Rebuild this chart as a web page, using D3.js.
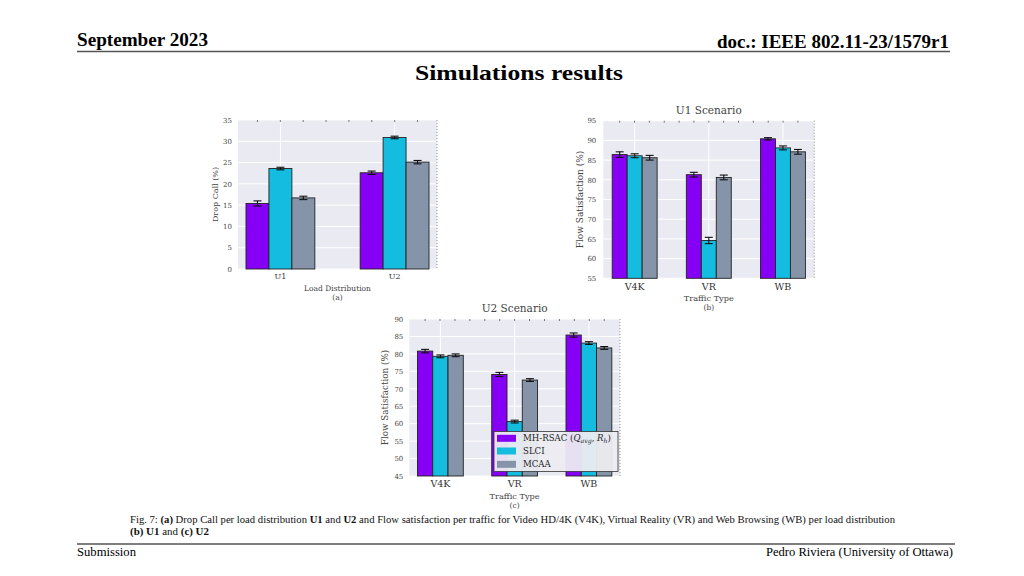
<!DOCTYPE html>
<html><head><meta charset="utf-8">
<script src="https://cdn.jsdelivr.net/npm/d3@7"></script>
<style>body{margin:0;background:#fff}svg{display:block}</style>
</head><body>
<script>
// ---------- data ----------
const methods = ["MH-RSAC", "SLCI", "MCAA"];
const methodColors = ["#8600f5", "#14bde0", "#8594a8"];
const loadCats = ["U1", "U2"];
const dropCall = [[15.4, 23.6, 16.7], [22.6, 30.9, 25.1]];
const dropCallErr = [[0.6, 0.3, 0.4], [0.4, 0.3, 0.4]];
const dropTicks = [0, 5, 10, 15, 20, 25, 30, 35];
const trafficTypes = ["V4K", "VR", "WB"];
const u1Sat = [[86.4, 86.1, 85.6], [81.3, 64.6, 80.6], [90.4, 88.1, 87.1]];
const u1Err = [[0.7, 0.5, 0.6], [0.6, 0.8, 0.6], [0.3, 0.5, 0.6]];
const u1Ticks = [55, 60, 65, 70, 75, 80, 85, 90, 95];
const u2Sat = [[80.8, 79.3, 79.6], [74.1, 60.6, 72.5], [85.4, 83.1, 81.7]];
const u2Err = [[0.5, 0.4, 0.4], [0.6, 0.4, 0.4], [0.6, 0.4, 0.4]];
const u2Ticks = [45, 50, 55, 60, 65, 70, 75, 80, 85, 90];

const svg = d3.select("body").append("svg").attr("width", 1024).attr("height", 576);
const serif = "'Liberation Serif', 'Times New Roman', serif";
const cm = "'DejaVu Serif', 'Liberation Serif', serif";

// ---------- page frame ----------
function txt(x, y, s, size, weight, anchor, len) {
  const t = svg.append("text").attr("x", x).attr("y", y).text(s)
    .attr("font-family", serif).attr("font-size", size).attr("font-weight", weight)
    .attr("text-anchor", anchor).attr("fill", "#000");
  if (len) t.attr("textLength", len).attr("lengthAdjust", "spacingAndGlyphs");
  return t;
}
txt(77, 46, "September 2023", 18, "bold", "start", 131);
txt(949, 48, "doc.: IEEE 802.11-23/1579r1", 18, "bold", "end", 232);
svg.append("line").attr("x1", 77).attr("x2", 950).attr("y1", 51.5).attr("y2", 51.5).attr("stroke", "#555").attr("stroke-width", 1.5);
txt(519, 80, "Simulations results", 21, "bold", "middle", 208);
svg.append("line").attr("x1", 77).attr("x2", 955).attr("y1", 544).attr("y2", 544).attr("stroke", "#555").attr("stroke-width", 1.5);
txt(77, 556, "Submission", 12.5, "normal", "start", 59);
txt(953, 556, "Pedro Riviera (University of Ottawa)", 12.5, "normal", "end", 187);

// caption
function caption(y, parts, len) {
  const t = svg.append("text").attr("x", 130).attr("y", y).attr("font-family", serif)
    .attr("font-size", 10.5).attr("fill", "#111");
  parts.forEach(p => t.append("tspan").text(p[0]).attr("font-weight", p[1] ? "bold" : "normal"));
  t.attr("textLength", len).attr("lengthAdjust", "spacingAndGlyphs");
}
caption(523, [["Fig. 7: ", 0], ["(a)", 1], [" Drop Call per load distribution ", 0], ["U1", 1], [" and ", 0], ["U2", 1],
  [" and Flow satisfaction per traffic for Video HD/4K (V4K), Virtual Reality (VR) and Web Browsing (WB) per load distribution", 0]], 765);
caption(535, [["(b)", 1], [" ", 0], ["U1", 1], [" and ", 0], ["(c)", 1], [" ", 0], ["U2", 1]], 79);

// ---------- panels ----------
function panel(o) {
  const g = svg.append("g");
  const x0 = d3.scaleBand().domain(o.cats).range([o.left, o.right]).paddingInner(o.pi).paddingOuter(o.po);
  const x1 = d3.scaleBand().domain(methods).range([0, x0.bandwidth()]);
  const y = d3.scaleLinear().domain(o.domain).range([o.bottom, o.top]);

  g.append("rect").attr("x", o.left).attr("y", o.top).attr("width", o.right - o.left)
    .attr("height", o.bottom - o.top).attr("fill", "#eaeaf2");
  g.selectAll(".hg").data(o.ticks).join("line").attr("x1", o.left).attr("x2", o.right)
    .attr("y1", d => y(d)).attr("y2", d => y(d)).attr("stroke", "#fff").attr("stroke-width", 1);
  g.selectAll(".vg").data(o.cats).join("line")
    .attr("x1", d => x0(d) + x0.bandwidth() / 2).attr("x2", d => x0(d) + x0.bandwidth() / 2)
    .attr("y1", o.top).attr("y2", o.bottom).attr("stroke", "#fff").attr("stroke-width", 1);

  // top minor ticks
  const bw = x1.bandwidth();
  const firstC = x0(o.cats[0]) + bw / 2;
  const lastC = x0(o.cats[o.cats.length - 1]) + x0.bandwidth() - bw / 2;
  const tks = d3.range(firstC, lastC + 1, (lastC - firstC) / Math.round((lastC - firstC) / bw));
  g.selectAll(".tt").data(tks).join("line").attr("x1", d => d).attr("x2", d => d)
    .attr("y1", o.top).attr("y2", o.top + 2).attr("stroke", "#555").attr("stroke-width", 0.8);
  g.append("line").attr("x1", o.right).attr("x2", o.right).attr("y1", o.top).attr("y2", o.bottom)
    .attr("stroke", "#777").attr("stroke-width", 0.8).attr("stroke-dasharray", "1,2");

  const rows = o.cats.map((c, i) => methods.map((m, j) => ({ c, m, j, v: o.values[i][j], e: o.errs[i][j] })));
  const cg = g.selectAll(".cg").data(rows).join("g").attr("transform", (d, i) => `translate(${x0(o.cats[i])},0)`);
  cg.selectAll("rect").data(d => d).join("rect")
    .attr("x", d => x1(d.m)).attr("width", bw)
    .attr("y", d => y(d.v)).attr("height", d => y(o.domain[0]) - y(d.v))
    .attr("fill", d => methodColors[d.j]).attr("stroke", "#222").attr("stroke-width", 0.9);
  const cap = 4;
  const eb = cg.selectAll(".eb").data(d => d).join("g");
  eb.append("line").attr("x1", d => x1(d.m) + bw / 2).attr("x2", d => x1(d.m) + bw / 2)
    .attr("y1", d => y(d.v - d.e)).attr("y2", d => y(d.v + d.e)).attr("stroke", "#111").attr("stroke-width", 1.1);
  [-1, 1].forEach(s => eb.append("line")
    .attr("x1", d => x1(d.m) + bw / 2 - cap).attr("x2", d => x1(d.m) + bw / 2 + cap)
    .attr("y1", d => y(d.v + s * d.e)).attr("y2", d => y(d.v + s * d.e))
    .attr("stroke", "#111").attr("stroke-width", 1.1));

  // axes
  const ya = g.append("g").attr("transform", `translate(${o.left},0)`)
    .call(d3.axisLeft(y).tickValues(o.ticks).tickSize(0).tickPadding(o.yPad));
  ya.select(".domain").remove();
  ya.selectAll("text").attr("font-family", cm).attr("font-size", 7).attr("fill", "#444");
  const xa = g.append("g").attr("transform", `translate(0,${o.bottom})`)
    .call(d3.axisBottom(x0).tickSize(0).tickPadding(o.xPad));
  xa.select(".domain").remove();
  xa.selectAll("text").attr("font-family", cm).attr("font-size", o.xTickSize).attr("fill", "#333");

  const lab = (x, yy, s, size, rot) => {
    const t = g.append("text").attr("text-anchor", "middle").attr("font-family", cm)
      .attr("font-size", size).attr("fill", "#444").text(s);
    if (rot) t.attr("transform", `translate(${x},${yy}) rotate(-90)`); else t.attr("x", x).attr("y", yy);
    return t;
  };
  const cx = (o.left + o.right) / 2;
  lab(o.yLabelX, (o.top + o.bottom) / 2, o.ylabel, o.yLabSize, true).attr("dy", "0.35em");
  lab(cx, o.xLabelY, o.xlabel, o.xLabSize);
  lab(cx, o.xLabelY + 9, o.sub, 7.5);
  if (o.title) lab(cx, o.titleY, o.title, 10.5);
  return { x0, x1, y, g };
}

panel({ cats: loadCats, values: dropCall, errs: dropCallErr, domain: [0, 35], ticks: dropTicks,
  left: 238, right: 437, top: 120, bottom: 269, pi: 0.397, po: 0.07, yPad: 6, xPad: 4,
  xTickSize: 8, yLabSize: 8, xLabSize: 7.5,
  ylabel: "Drop Call (%)", xlabel: "Load Distribution", sub: "(a)", yLabelX: 215, xLabelY: 291 });

panel({ cats: trafficTypes, values: u1Sat, errs: u1Err, domain: [55, 95], ticks: u1Ticks,
  left: 603.3, right: 814.3, top: 120.7, bottom: 278.3, pi: 0.394, po: 0.12, yPad: 7, xPad: 5,
  xTickSize: 9.5, yLabSize: 9, xLabSize: 8.2,
  ylabel: "Flow Satisfaction (%)", xlabel: "Traffic Type", sub: "(b)", yLabelX: 580, xLabelY: 300.5,
  title: "U1 Scenario", titleY: 114 });

panel({ cats: trafficTypes, values: u2Sat, errs: u2Err, domain: [45, 90], ticks: u2Ticks,
  left: 409.3, right: 620, top: 319, bottom: 476, pi: 0.383, po: 0.11, yPad: 6, xPad: 4,
  xTickSize: 9.5, yLabSize: 8.8, xLabSize: 8.2,
  ylabel: "Flow Satisfaction (%)", xlabel: "Traffic Type", sub: "(c)", yLabelX: 385, xLabelY: 499,
  title: "U2 Scenario", titleY: 312 });

// legend (panel c)
const lg = svg.append("g");
lg.append("rect").attr("x", 494).attr("y", 431.5).attr("width", 124).attr("height", 40)
  .attr("fill", "#ececf1").attr("fill-opacity", 0.95).attr("stroke", "#333").attr("stroke-width", 0.8);
const rowsY = [438.3, 451, 464.3];
methods.forEach((m, i) => {
  lg.append("rect").attr("x", 497).attr("y", rowsY[i] - 3.5).attr("width", 19).attr("height", 7)
    .attr("fill", methodColors[i]);
  const t = lg.append("text").attr("x", 523).attr("y", rowsY[i]).attr("dy", "0.35em")
    .attr("font-family", cm).attr("font-size", 8.6).attr("fill", "#222");
  if (i === 0) {
    t.append("tspan").text("MH-RSAC (");
    t.append("tspan").text("Q").attr("font-style", "italic");
    t.append("tspan").text("avg").attr("font-style", "italic").attr("font-size", 6.2).attr("dy", 2);
    t.append("tspan").text(", ").attr("dy", -2);
    t.append("tspan").text("R").attr("font-style", "italic");
    t.append("tspan").text("h").attr("font-style", "italic").attr("font-size", 6.2).attr("dy", 2);
    t.append("tspan").text(")").attr("dy", -2);
  } else {
    t.text(m);
  }
});
</script>
</body></html>
